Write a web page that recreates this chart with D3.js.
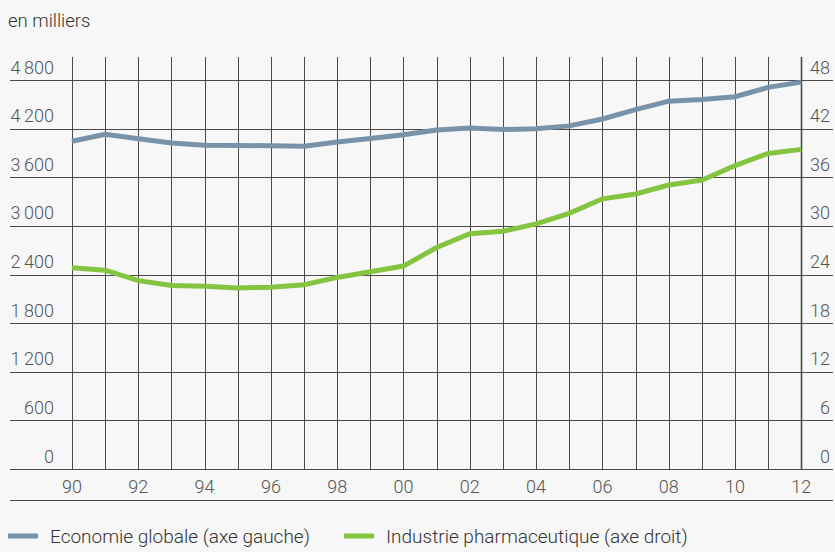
<!DOCTYPE html>
<html>
<head>
<meta charset="utf-8">
<script src="https://cdn.jsdelivr.net/npm/d3@7"></script>
<style>
  body { margin: 0; background: #f7f7f7; }
  svg { display: block; font-family: "Roboto", "Liberation Sans", sans-serif; font-weight: 300; }
</style>
</head>
<body>
<div id="chart"></div>
<script>
// years 1990..2012
var years = d3.range(1990, 2013);
// Economie globale, axe gauche (en milliers)
var economie = [4050, 4135, 4080, 4030, 4000, 3998, 3995, 3990, 4040, 4085, 4130,
                4190, 4215, 4195, 4205, 4240, 4325, 4440, 4545, 4565, 4600, 4715, 4780];
// Industrie pharmaceutique, axe droit (en milliers)
var pharma = [24.9, 24.6, 23.3, 22.7, 22.6, 22.4, 22.5, 22.8, 23.7, 24.4, 25.1,
              27.4, 29.1, 29.4, 30.3, 31.6, 33.4, 34.0, 35.1, 35.7, 37.5, 39.0, 39.5];
var leftTicks = [0, 600, 1200, 1800, 2400, 3000, 3600, 4200, 4800];
var rightTicks = [0, 6, 12, 18, 24, 30, 36, 42, 48];
var xLabels = [1990, 1992, 1994, 1996, 1998, 2000, 2002, 2004, 2006, 2008, 2010, 2012];

var width = 835, height = 552;
var blue = "#7893a9", green = "#84c441", grid = "#4a4a4a", txt = "#555";

var svg = d3.select("#chart").append("svg")
    .attr("width", width)
    .attr("height", height);

var x = d3.scaleLinear().domain([1990, 2012]).range([72, 801.3]);
var yL = d3.scaleLinear().domain([0, 4800]).range([469.5, 80.5]);
var yR = d3.scaleLinear().domain([0, 48]).range([469.5, 80.5]);

var fmt = function(v) { return d3.format(",")(v).replace(",", "\u2009"); };

// title
svg.append("text")
  .attr("x", 8).attr("y", 27)
  .attr("font-size", 18.5).attr("fill", "#333")
  .text("en milliers");

// vertical gridlines
svg.append("g").selectAll("line")
  .data(years)
  .enter().append("line")
    .attr("x1", function(d) { return Math.round(x(d)) + 0.5; })
    .attr("x2", function(d) { return Math.round(x(d)) + 0.5; })
    .attr("y1", 57).attr("y2", 469.5)
    .attr("stroke", grid)
    .attr("stroke-width", function(d) { return d == 2012 ? 1.6 : 1; });

// horizontal gridlines
svg.append("g").selectAll("line")
  .data(leftTicks)
  .enter().append("line")
    .attr("x1", 10).attr("x2", 833)
    .attr("y1", function(d) { return Math.round(yL(d) - 0.5) + 0.5; })
    .attr("y2", function(d) { return Math.round(yL(d) - 0.5) + 0.5; })
    .attr("stroke", grid)
    .attr("stroke-width", 1);

// bottom rule
svg.append("line")
  .attr("x1", 10).attr("x2", 833)
  .attr("y1", 500.5).attr("y2", 500.5)
  .attr("stroke", grid);

// left labels
svg.append("g").selectAll("text")
  .data(leftTicks)
  .enter().append("text")
    .attr("x", 54)
    .attr("y", function(d) { return yL(d) - 7; })
    .attr("text-anchor", "end")
    .attr("font-size", 18).attr("fill", txt)
    .text(fmt);

// right labels
svg.append("g").selectAll("text")
  .data(rightTicks)
  .enter().append("text")
    .attr("x", 830)
    .attr("y", function(d) { return yR(d) - 7; })
    .attr("text-anchor", "end")
    .attr("font-size", 18).attr("fill", txt)
    .text(function(d) { return d; });

// x labels
svg.append("g").selectAll("text")
  .data(xLabels)
  .enter().append("text")
    .attr("x", function(d) { return x(d); })
    .attr("y", 493)
    .attr("text-anchor", "middle")
    .attr("font-size", 18).attr("fill", txt)
    .text(function(d) { return String(d % 100).padStart(2, "0"); });

// lines
var lineL = d3.line()
  .x(function(d, i) { return x(years[i]); })
  .y(function(d) { return yL(d); });
var lineR = d3.line()
  .x(function(d, i) { return x(years[i]); })
  .y(function(d) { return yR(d); });

svg.append("path")
  .datum(economie)
  .attr("d", lineL)
  .attr("fill", "none")
  .attr("stroke", blue)
  .attr("stroke-width", 5);

svg.append("path")
  .datum(pharma)
  .attr("d", lineR)
  .attr("fill", "none")
  .attr("stroke", green)
  .attr("stroke-width", 5);

// legend
var legend = [
  {label: "Economie globale (axe gauche)", color: blue, x: 8},
  {label: "Industrie pharmaceutique (axe droit)", color: green, x: 344}
];
var lg = svg.append("g").selectAll("g")
  .data(legend)
  .enter().append("g")
    .attr("transform", function(d) { return "translate(" + d.x + ",536)"; });
lg.append("rect")
  .attr("x", 0).attr("y", -2.5)
  .attr("width", 30).attr("height", 5)
  .attr("fill", function(d) { return d.color; });
lg.append("text")
  .attr("x", 42).attr("y", 7)
  .attr("font-size", 19).attr("fill", "#333")
  .text(function(d) { return d.label; });
</script>
</body>
</html>
